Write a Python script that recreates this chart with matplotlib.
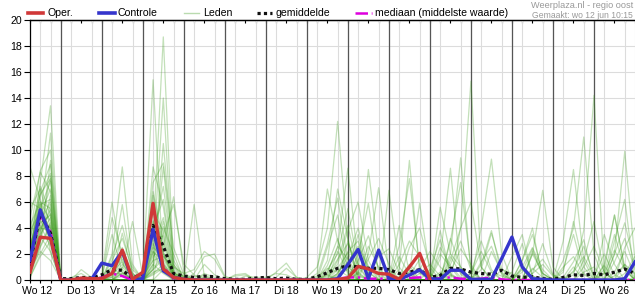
import numpy as np
import matplotlib
matplotlib.use('Agg')
import matplotlib.pyplot as plt
from matplotlib.lines import Line2D

plt.rcParams['font.family'] = ['Liberation Sans', 'DejaVu Sans']

# 6-hourly steps, Wo 12 06:00 .. Wo 26 18:00
day_labels = ['Wo 12', 'Do 13', 'Vr 14', 'Za 15', 'Zo 16', 'Ma 17', 'Di 18',
              'Wo 19', 'Do 20', 'Vr 21', 'Za 22', 'Zo 23', 'Ma 24', 'Di 25', 'Wo 26']

# operational run (shorter than the ensemble)
oper = [0.6, 3.3, 3.2,  0, 0, 0.15, 0.1,  0.1, 0.5, 2.3, 0.05,  0.6, 5.9, 0.85, 0.2,
        0.05, 0, 0, 0,  0, 0, 0, 0,  0, 0, 0, 0,  0, 0, 0, 0.05,
        0.15, 1.05, 0.85, 0.5,  0.45, 0.05, 1.0, 2.05,  0.05]

controle = [1.5, 5.4, 3.3,  0, 0, 0, 0.05,  1.3, 1.1, 2.2, 0,  0.1, 3.9, 0.7, 0.2,
            0.05, 0, 0, 0,  0, 0, 0, 0,  0, 0, 0, 0,  0, 0, 0, 0.1,
            1.2, 2.35, 0.1, 2.3,  0.1, 0.05, 0.38, 0.77,  0.1, 0.05, 0.75, 0.75,
            0.05, 0.05, 0.05, 1.65,  3.3, 1.0, 0.1, 0.05,  0, 0, 0, 0,  0, 0, 0, 0.1,  1.4]

gemiddelde = [1.3, 5.1, 3.6,  0.1, 0.1, 0.2, 0.15,  0.4, 0.8, 0.75, 0.15,  0.5, 4.2, 2.6, 0.5,
              0.3, 0.2, 0.3, 0.25,  0.1, 0.05, 0.05, 0.15,  0.2, 0.1, 0.15, 0.05,
              0.05, 0.25, 0.56, 0.9,  1.1, 1.0, 0.9, 0.9,  0.8, 0.5, 0.6, 0.8,
              0.2, 0.35, 0.9, 0.85,  0.6, 0.5, 0.45, 0.75,  0.3, 0.2, 0.25, 0.1,
              0.05, 0.2, 0.4, 0.35,  0.5, 0.4, 0.6, 0.85,  0.5]

mediaan = [1.2, 5.0, 3.7,  0, 0, 0, 0,  0.2, 0.5, 0.3, 0,  0.3, 3.8, 1.0, 0.1,
           0, 0, 0, 0,  0, 0, 0, 0,  0, 0, 0, 0,  0, 0, 0, 0.1,
           0.2, 0.2, 0.1, 0.1,  0.1, 0.1, 0.15, 0.2,  0.05, 0.15, 0.2, 0.1,
           0.05, 0.1, 0.2, 0.05,  0, 0, 0, 0,  0, 0, 0, 0,  0, 0, 0, 0,  0]

leden = [
    [8.7, 6.2, 2.1,  0, 0, 0, 0,  0, 0.4, 1.2, 0.3,  0.2, 2.8, 1.1, 0.2,  0, 0, 0, 0,  0, 0, 0, 0,  0, 0, 0, 0,  0, 0, 0.6, 2.5,  8.6, 1.2, 0, 0,  0, 0.3, 1.1, 0,  0, 0, 0.4, 0,  0, 0, 2.2, 0.6,  0, 0, 0, 0,  0, 0.2, 1.4, 3.1,  0, 0, 0, 0,  0],
    [2.1, 7.5, 13.4,  0, 0, 0, 0,  0, 0, 0.6, 0,  0.5, 5.2, 3.8, 0.4,  0, 0.3, 0.2, 0,  0, 0, 0, 0,  0, 0, 0, 0,  0, 0, 0, 0.4,  0.8, 3.5, 0.6, 0,  0, 0, 0, 0.5,  1.2, 0.3, 0, 0,  0, 0, 0, 0,  1.8, 3.5, 0.3, 0,  0, 0, 0, 0,  0, 0.5, 2.3, 0.8,  0],
    [1.2, 4.8, 11.3,  0, 0, 0, 0,  0, 1.5, 3.2, 0.8,  0, 1.2, 8.7, 1.0,  0, 0, 0, 0,  0, 0, 0, 0,  0, 0, 0, 0,  0, 0.3, 2.8, 6.3,  1.5, 0, 0, 0,  0, 0, 0, 0,  0, 2.5, 1.1, 0.2,  0, 0, 0, 0,  0, 0, 0.9, 0.2,  0, 0, 0, 0,  0, 0, 0, 0,  0],
    [3.5, 8.4, 10.0,  0, 0, 0, 0,  0, 0, 0, 0,  0, 3.6, 2.2, 0.5,  0, 0, 0, 0,  0, 0, 0, 0,  0, 0, 0, 0,  0, 0, 0, 0,  0, 0.5, 2.6, 1.0,  0, 0, 0, 0,  0, 0, 0, 0,  0, 0.8, 3.6, 0.9,  0, 0, 0, 0,  0, 0.6, 4.5, 1.0,  0, 1.1, 0, 0,  0.2],
    [6.0, 5.5, 3.0,  0, 0, 0, 0,  0, 0, 0.3, 0,  0.2, 15.4, 1.0, 0.3,  0, 0, 0, 0,  0, 0, 0, 0,  0, 0, 0, 0,  0, 0, 0.2, 0.9,  2.1, 0.5, 0, 0,  0, 0, 0, 0,  0, 1.6, 8.6, 0.4,  0, 0, 0, 0,  0, 0, 0.5, 2.8,  0.4, 0, 0, 0,  0, 0, 3.0, 6.2,  0],
    [0.5, 3.2, 6.5,  0, 0, 0.8, 0.2,  0, 0, 0, 0,  0, 0, 4.1, 2.0,  0, 0, 0, 0,  0, 0, 0, 0,  0, 0, 0, 0,  0, 0, 0, 0,  0, 0, 0, 0,  0, 0, 0.6, 5.9,  0.5, 0, 0, 0,  0.3, 0, 0, 0,  0, 1.0, 2.5, 0.8,  0, 0, 0, 0,  0, 0, 0.3, 1.2,  0],
    [1.8, 6.8, 8.9,  0, 0, 0.2, 0,  0.3, 6.0, 1.3, 0,  0, 6.5, 2.1, 0,  0, 0, 0.2, 0,  0, 0, 0, 0,  0, 0, 0, 0,  0, 0, 1.1, 3.2,  0.4, 0, 0, 0,  0, 0, 0, 0,  0, 0, 0, 0,  0, 0, 0, 0,  0, 0, 0, 0,  0, 0, 0.4, 3.8,  14.2, 0.6, 0, 0,  0],
    [0.3, 2.5, 4.2,  0, 0, 0, 0,  0, 2.0, 8.7, 1.2,  0, 2.2, 0.6, 0,  0, 0, 0, 0,  0, 0, 0, 0,  0, 0, 0, 0,  0, 0, 0, 1.5,  4.2, 0.6, 0, 0,  0, 1.8, 0.4, 0,  0, 0, 3.0, 7.5,  1.0, 0, 0, 0,  0, 0, 0, 0,  0, 0, 1.0, 0,  0, 0, 2.0, 4.4,  1.0],
    [2.6, 4.0, 5.1,  0, 0, 0, 0,  0, 1.1, 5.8, 0.4,  0, 0.8, 10.5, 1.5,  0.2, 0, 0, 0,  0, 0, 0, 0,  0, 0, 0, 0,  0, 0, 0, 0,  0, 0, 0, 0,  0.8, 0, 0, 0,  0, 0, 0, 4.0,  15.3, 1.0, 0, 0,  0, 0, 0, 0,  0, 0, 0, 0,  0, 3.5, 1.2, 0,  0],
    [1.0, 5.5, 7.6,  0, 0, 0, 0,  0, 0, 0.8, 4.5,  0.3, 1.5, 1.8, 0.3,  0, 0, 0, 0,  0, 0, 0, 0,  0, 0, 0, 0,  0, 0, 0, 0,  0, 2.0, 5.9, 0.5,  0, 0, 0, 0,  0, 0.6, 0, 0,  0, 0, 0, 0,  0, 1.5, 4.0, 0,  0, 0, 0, 0,  0, 0, 0, 0.5,  1.8],
    [4.2, 6.0, 4.5,  0, 0, 0, 0,  0, 4.8, 2.0, 0,  0, 4.5, 1.2, 0,  0, 0, 0, 0,  0, 0, 0, 0,  0, 0, 0, 0,  0, 0, 0, 0.3,  1.1, 0, 0, 0,  0, 2.6, 7.8, 1.0,  0, 0, 0, 0,  0, 0, 0, 0,  0, 0, 0, 0,  0, 0, 0, 0,  0, 0, 0, 0,  0],
    [0.8, 3.8, 5.4,  0, 0, 0, 0,  0, 0, 0, 0,  0, 8.7, 5.6, 0.8,  0, 0, 0, 0,  0, 0, 0, 0,  0, 0, 0, 0,  0, 0, 0.4, 0,  0, 0, 0, 0,  0, 0, 0, 0,  0, 0.4, 2.0, 9.4,  0.6, 0, 0, 0,  0, 0, 0, 0,  0, 0, 0, 0,  0, 1.2, 5.0, 0.8,  0],
    [2.2, 6.5, 8.2,  0, 0, 0, 0,  0, 0.5, 1.8, 0,  0, 3.2, 18.7, 1.2,  0, 0, 0, 0,  0, 0, 0, 0,  0, 0, 0, 0,  0, 0, 0, 0,  0, 0, 0, 0,  0, 0, 0, 0,  0, 0, 0, 0,  0, 0, 0, 0,  0, 0, 2.2, 0.5,  0, 0, 0, 0,  0, 0, 0, 0,  0],
    [1.5, 4.5, 6.0,  0, 0, 0, 0,  0, 0, 2.5, 0.5,  0, 2.0, 14.0, 0.6,  0, 0, 0.5, 0.2,  0, 0, 0, 0,  0, 0, 0, 0,  0, 0, 0, 2.2,  0.6, 0, 0, 0,  0, 4.2, 0.6, 0,  0, 0, 1.8, 0.5,  0, 0, 0, 0,  0.6, 2.8, 0.3, 0,  0, 0, 0, 0,  0, 0, 0, 0,  0],
    [0.2, 2.0, 3.5,  0, 0, 0, 0,  0, 0, 0, 0,  0, 5.5, 2.5, 6.4,  0.6, 0, 0, 0,  0, 0, 0, 0,  0, 0, 0, 0,  0, 0, 0, 0,  0, 0, 2.0, 7.1,  0.6, 0, 0, 0,  0, 0, 3.2, 1.0,  0, 0, 0, 0,  0, 0, 0, 0,  0, 0, 0, 0,  0, 0, 0, 0,  0],
    [3.0, 7.2, 5.0,  0, 0, 0, 0,  0, 0, 0, 0,  0, 1.0, 3.5, 5.8,  1.2, 0.4, 0, 0,  0, 0, 0, 0,  0, 0, 0, 0,  0, 0, 0, 0,  0, 0, 0, 0,  6.9, 1.0, 0, 0,  0.8, 3.1, 0.5, 0,  0, 0, 0, 0,  0, 0, 0, 0,  0, 0, 0.7, 2.6,  0.4, 0, 0, 0,  0],
    [0.5, 2.8, 9.2,  0, 0, 0, 0,  0, 0, 0, 0,  0, 0, 0.8, 0.4,  0, 5.8, 0.3, 0,  0, 0, 0, 0,  0, 0, 0, 0,  0, 0, 0, 0,  3.0, 0.3, 0, 0,  0, 0, 0, 0,  0, 0, 0, 0,  0, 0, 0, 0,  0, 0.9, 0, 0,  0, 0, 0, 0,  0, 0, 0, 0,  0],
    [1.6, 5.0, 7.0,  0, 0, 0, 0,  0, 0, 1.0, 0.2,  0, 2.5, 1.8, 1.0,  0.5, 0.8, 2.2, 1.6,  0.2, 0, 0, 0,  0, 0, 0, 0,  0, 0, 0, 0,  0, 0, 0, 0,  0, 0, 0, 0,  0, 3.8, 0.4, 0,  0, 0, 0, 0,  0, 0, 2.0, 0.5,  0, 0, 0, 0,  0, 0, 0, 0,  0],
    [2.8, 4.6, 3.2,  0, 0, 0, 0,  0, 0.6, 0.4, 0,  0, 4.0, 6.2, 0.6,  0, 0.5, 1.8, 2.0,  0.3, 0, 0, 0,  0, 0, 0, 0,  0, 0, 0, 0,  0, 0, 0, 0,  0, 0, 0, 0,  0, 0, 0, 0,  0, 4.0, 9.3, 2.0,  0, 0, 0, 0,  0, 0, 0, 0,  0, 0, 0, 0,  0],
    [0.9, 3.5, 4.8,  0, 0.2, 0.5, 0,  0, 0, 0, 0,  0, 0.6, 0.9, 0.3,  0, 0, 1.2, 0.4,  0, 0.4, 0.5, 0,  0, 0.6, 1.3, 0.2,  0, 0, 0, 0,  0, 0, 0, 0,  0, 0, 0, 0,  0, 0, 1.5, 4.0,  6.0, 1.0, 0, 0,  0, 0, 0, 0,  0, 0, 0, 0,  0, 0, 0, 0,  0],
    [2.0, 5.8, 6.2,  0, 0, 0, 0,  0, 0.2, 3.6, 0.5,  0, 1.8, 2.8, 0.2,  0, 0, 0, 0,  0, 0.3, 0.4, 0,  0, 0.2, 0.9, 0.2,  0, 0, 0, 0,  0, 0, 0, 0,  0, 0, 0, 0,  0, 0, 0, 0,  0, 0, 0, 0,  0, 0, 2.0, 6.9,  1.0, 0, 0, 0,  0, 0, 0, 0,  0],
    [1.3, 4.2, 2.6,  0, 0, 0, 0,  0, 0, 0, 0.2,  0.4, 3.0, 3.4, 0.3,  0, 0, 0, 0,  0, 0, 0, 0,  0, 0, 0, 0,  0.2, 1.0, 4.0, 12.2,  3.0, 0, 0, 0,  0, 0, 0, 0,  0, 0, 0, 0,  0, 0, 0, 0,  0, 0, 0, 0,  0, 0, 0, 0,  0, 0.5, 3.5, 0.8,  0],
    [3.8, 5.2, 4.0,  0, 0, 0, 0,  0, 0, 0, 0,  0, 0, 0, 0,  0, 0, 0, 0,  0, 0, 0, 0,  0, 0, 0, 0,  0, 0.5, 7.0, 3.0,  1.0, 0.4, 0, 0,  0, 0, 0, 0,  0, 5.6, 2.0, 1.0,  0, 0, 0, 0,  0, 0, 0, 0,  0, 0, 0, 0,  0, 0, 0, 0,  0],
    [0.4, 3.0, 5.8,  0, 0, 0, 0,  0, 0, 0, 0,  0, 1.5, 4.5, 0.3,  0, 0, 0, 0,  0, 0, 0, 0,  0, 0, 0, 0,  0, 0, 1.5, 7.0,  3.2, 0, 0, 0,  0, 0, 0, 0,  0, 0, 0, 0,  0, 0, 0, 0,  0, 0, 0, 0,  0, 0.8, 3.5, 0.5,  0, 0, 0, 0,  0],
    [1.1, 4.0, 3.8,  0, 0, 0, 0,  0, 0, 0, 0,  0, 2.2, 1.4, 0,  0, 0, 0, 0,  0, 0, 0, 0,  0, 0, 0, 0,  0, 0, 0, 0,  0, 0.6, 8.5, 2.0,  0, 0, 0, 0,  0, 0, 0, 0,  0, 0, 0, 0,  0, 1.5, 3.5, 0.5,  0, 0, 0, 0,  0, 0, 0, 2.5,  4.0],
    [2.4, 6.0, 5.5,  0, 0, 0, 0,  0, 0, 0, 0,  0, 0, 0, 0,  0, 0, 0, 0,  0, 0, 0, 0,  0, 0, 0, 0,  0, 0, 0, 0,  0, 0, 0, 0,  0, 0.8, 9.2, 0.6,  0, 0, 0, 0,  0, 1.2, 3.8, 0.4,  0, 0, 0, 0,  0, 0, 0, 1.5,  4.5, 0.5, 0, 0,  0],
    [0.6, 2.6, 4.4,  0, 0, 0, 0,  0, 0.3, 1.6, 0.2,  0, 0.5, 1.2, 0.4,  0, 0, 0.4, 0,  0, 0, 0.3, 0.2,  0.2, 0.5, 0.4, 0,  0, 0, 0.8, 2.0,  5.5, 1.0, 0, 0,  0, 0, 0, 0,  0, 0, 0, 0,  0, 0, 0, 0,  0, 0, 0, 0,  0, 1.5, 4.0, 11.0,  2.0, 0, 0, 0,  0],
    [0.2, 1.8, 3.0,  0, 0, 0, 0,  0, 0, 0.5, 0,  0, 0.8, 2.0, 0.3,  0, 0, 0, 0,  0, 0, 0, 0,  0, 0, 0, 0,  0, 0, 0, 0.5,  1.8, 4.0, 1.0, 0,  0, 0, 0, 0,  0, 0, 0, 0,  0, 0, 0, 0,  0, 0, 0, 0,  0, 0, 0, 0,  0, 0, 2.0, 9.9,  1.5],
    [1.7, 3.3, 2.2,  0, 0, 0, 0,  0, 0.8, 2.2, 0.3,  0, 1.2, 0.5, 0,  0, 0, 0, 0,  0, 0, 0, 0,  0, 0, 0, 0,  0, 0, 0.3, 1.2,  3.8, 6.0, 1.5, 0,  0, 0, 0, 0,  0, 0, 0, 0,  0.5, 3.0, 0.8, 0,  0, 0, 0, 0,  0, 3.0, 8.5, 1.5,  0, 0, 0, 0,  0],
    [0.8, 2.2, 1.5,  0, 0, 0, 0,  0.2, 3.5, 0.6, 0,  0, 0.4, 0.9, 0.2,  0, 0, 0, 0,  0, 0, 0, 0,  0, 0, 0, 0,  0, 0, 0, 0,  0, 0, 0, 0,  0, 0, 2.5, 4.0,  1.0, 0, 0, 0,  0, 0, 0, 0,  0, 0.6, 2.4, 0.3,  0, 0, 0, 0,  0, 0.8, 5.0, 1.0,  0.2],
    [4.8, 8.3, 6.8,  0, 0, 0, 0,  0, 0, 0, 0,  0, 6.8, 3.0, 0.5,  0.3, 0, 0, 0,  0, 0, 0, 0,  0, 0, 0, 0,  0, 0, 0, 0.5,  2.2, 3.0, 0.6, 0,  0, 0, 0, 0,  0, 0, 0, 0,  0, 0, 0, 0,  0, 0, 0, 0,  0, 0, 0, 0,  0, 0, 0, 0,  0],
    [5.5, 7.0, 4.0,  0, 0, 0, 0,  0, 1.8, 4.2, 1.0,  0, 7.5, 9.0, 2.5,  0.4, 0, 0, 0,  0, 0, 0, 0,  0, 0, 0, 0,  0, 0, 2.5, 5.0,  0.8, 0, 0, 0,  0, 0, 0, 0,  0, 0, 0, 0,  0, 0, 0, 0,  0, 0, 0, 0,  0, 0, 0, 0,  0, 0, 0, 0,  0],
    [3.2, 6.6, 7.8,  0, 0, 0, 0,  0, 0.6, 1.4, 0.2,  0, 2.6, 4.8, 0.6,  0, 0, 0, 0,  0, 0, 0, 0,  0, 0, 0, 0,  0, 0, 0.4, 1.6,  2.8, 1.2, 0.5, 1.8,  2.4, 0.6, 0, 0.8,  2.2, 1.0, 0.3, 0,  0, 1.4, 2.6, 0.5,  0, 0, 0.8, 1.6,  0.4, 0, 0, 1.0,  2.6, 0.6, 0, 1.2,  0.5],
    [0.7, 4.4, 5.0,  0, 0, 0, 0,  0, 0.2, 0.8, 0,  0, 0.8, 1.6, 0.3,  0, 0, 0, 0,  0, 0, 0, 0,  0, 0, 0, 0,  0, 0.2, 0.9, 0.6,  1.4, 2.6, 1.0, 0.3,  0, 1.2, 3.0, 1.8,  0.4, 0, 0.6, 2.4,  1.2, 0, 0, 0.8,  0.5, 0, 0, 0,  0, 1.0, 1.8, 0.4,  0, 0, 1.4, 3.2,  0.8],
    [2.5, 5.8, 3.6,  0, 0, 0, 0,  0, 0, 0.5, 0.2,  0.3, 3.4, 7.2, 1.2,  0.2, 0, 0, 0,  0, 0, 0, 0,  0, 0, 0, 0,  0, 0, 0, 0.8,  0.3, 1.5, 3.4, 0.8,  0.2, 0, 1.2, 0.5,  0, 2.0, 1.0, 0,  0.5, 2.2, 0.6, 0,  0, 0.8, 0, 0,  0, 0, 0.6, 1.8,  0.3, 2.0, 0.4, 0,  0],
    [1.9, 3.6, 8.0,  0, 0, 0, 0,  0, 1.0, 0.3, 0,  0, 4.6, 2.0, 0.4,  0, 0, 0, 0,  0, 0, 0, 0,  0, 0, 0, 0,  0, 0, 0.5, 2.6,  1.6, 0.4, 1.6, 3.2,  1.2, 0, 0.3, 1.6,  0.5, 0, 1.2, 3.0,  0.8, 0, 0.6, 0.3,  0, 0, 0.5, 1.2,  0.3, 0, 0, 0.6,  1.0, 0, 0.6, 2.2,  0.3],
]

n = len(controle)
steps = np.arange(n)
day_starts = np.arange(3, n - 1, 4)
label_pos = [0.65] + list(day_starts + 2)

fig = plt.figure(figsize=(6.35, 3.0), dpi=100)
ax = fig.add_axes([30 / 635, 20 / 300, 605 / 635, 260 / 300])

for m in leden:
    ax.plot(steps, m, color='#3a9a1a', alpha=0.3, lw=0.9, zorder=2)

for d in day_starts:
    ax.axvline(d, color='#555555', lw=0.9, zorder=1.5)

ax.plot(steps, mediaan, color='#dd00dd', lw=1.8, ls=(0, (5, 1.5, 1, 1.5)), zorder=3)
ax.plot(steps, gemiddelde, color='#111111', lw=2.3, ls=(0, (1, 1)), zorder=4)
ax.plot(steps, controle, color='#3535cc', lw=2.4, zorder=5)
ax.plot(np.arange(len(oper)), oper, color='#d03838', lw=2.4, zorder=6)

ax.set_xlim(0, n - 1)
ax.set_ylim(0, 20)

ax.set_xticks(label_pos)
ax.set_xticklabels(day_labels)
ax.set_xticks(steps, minor=True)
ax.tick_params(axis='x', which='major', length=0, pad=4, labelsize=7.6)
ax.tick_params(axis='x', which='minor', length=2.5, width=0.8, direction='out')
ax.set_yticks(np.arange(0, 21, 2))
ax.tick_params(axis='y', which='major', length=4, width=0.8, direction='out', pad=2, labelsize=7.6)

ax.grid(True, which='minor', axis='x', color='#dcdcdc', lw=0.8, zorder=0)
ax.grid(True, which='major', axis='y', color='#dcdcdc', lw=0.8, zorder=0)
ax.set_axisbelow(True)

ax.spines['right'].set_visible(False)
for s in ['left', 'top', 'bottom']:
    ax.spines[s].set_linewidth(0.9)
    ax.spines[s].set_color('black')

top = ax.secondary_xaxis('top')
top.set_xticks([])
top.set_xticks(steps, minor=True)
top.tick_params(which='minor', direction='in', length=2.5, width=0.8, labeltop=False)
top.spines['top'].set_linewidth(0.9)

# legend row
yl = 1 - 13.3 / 300
def px(x):
    return x / 635

keys = [
    (28, 43, 47, 'Oper.', dict(color='#d03838', lw=2.6)),
    (99, 115, 118, 'Controle', dict(color='#3535cc', lw=2.6)),
    (184, 199, 203, 'Leden', dict(color='#3a9a1a', alpha=0.35, lw=1.0)),
    (257, 272, 276, 'gemiddelde', dict(color='#111111', lw=2.3, ls=(0, (1, 1)))),
    (355, 372, 375, 'mediaan (middelste waarde)', dict(color='#dd00dd', lw=1.8, ls=(0, (5, 1.5, 1, 1.5)))),
]
for x0, x1, xt, label, style in keys:
    fig.add_artist(Line2D([px(x0), px(x1)], [yl, yl], transform=fig.transFigure, **style))
    fig.text(px(xt), yl, label, va='center', ha='left', fontsize=7.6)

fig.text(px(633), 1 - 5.5 / 300, 'Weerplaza.nl - regio oost', ha='right', va='center',
         fontsize=6.6, color='#999999')
fig.text(px(633), 1 - 15 / 300, 'Gemaakt: wo 12 jun 10:15', ha='right', va='center',
         fontsize=6.2, color='#999999')

fig.savefig('out.png', dpi=100)
